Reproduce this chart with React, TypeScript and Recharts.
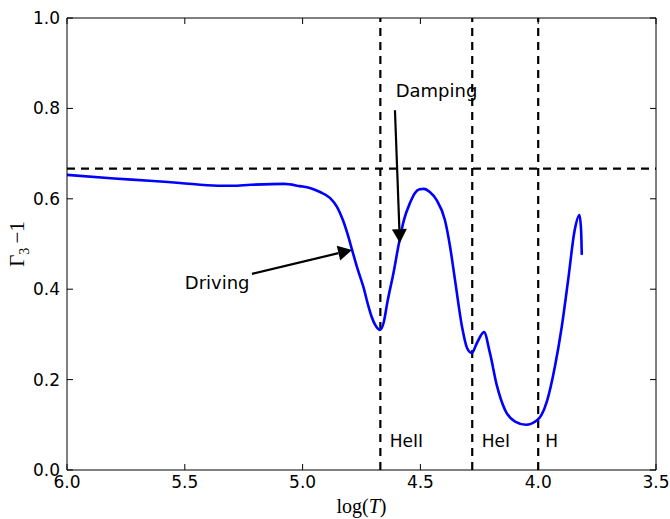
import React from 'react';
import { LineChart, Line, XAxis, YAxis, ReferenceLine, ReferenceDot } from 'recharts';

// log(T) values along the profile (surface towards the right)
const logT = [
  6.0, 5.8, 5.65, 5.52, 5.36, 5.3, 5.22, 5.08, 5.011, 4.969, 4.926, 4.884, 4.854, 4.829,
  4.808, 4.79, 4.765, 4.742, 4.722, 4.707, 4.693, 4.672, 4.655, 4.641, 4.612, 4.594,
  4.57, 4.544, 4.523, 4.503, 4.485, 4.46, 4.431, 4.396, 4.374, 4.353, 4.323, 4.302,
  4.282, 4.26, 4.23, 4.205, 4.175, 4.141, 4.098, 4.052, 4.005, 3.986, 3.963, 3.929,
  3.9, 3.873, 3.845, 3.825, 3.818, 3.815,
];
// Gamma_3 - 1 values
const gamma3m1 = [
  0.653, 0.645, 0.64, 0.635, 0.629, 0.629, 0.631, 0.633, 0.628, 0.624, 0.615, 0.602, 0.582, 0.553,
  0.52, 0.487, 0.442, 0.405, 0.365, 0.339, 0.322, 0.31, 0.328, 0.369, 0.442, 0.494,
  0.553, 0.591, 0.613, 0.621, 0.622, 0.615, 0.597, 0.553, 0.494, 0.42, 0.316, 0.27,
  0.259, 0.281, 0.305, 0.259, 0.186, 0.133, 0.107, 0.1, 0.11, 0.122, 0.152, 0.229,
  0.317, 0.42, 0.531, 0.564, 0.531, 0.476,
];

const xTicks = [6.0, 5.5, 5.0, 4.5, 4.0, 3.5];
const yTicks = [0.0, 0.2, 0.4, 0.6, 0.8, 1.0];
const xMin = 3.5;
const xMax = 6.0;
const yMin = 0.0;
const yMax = 1.0;

const ionLines = [4.67, 4.28, 4.0];
const ionLabels = ['HeII', 'HeI', 'H'];
const ionLabelX = [4.63, 4.24, 3.97];
const ionLabelY = 0.065;

const adiabaticValue = 2 / 3;

const annotationTexts = ['Damping', 'Driving'];
const annotationTextX = [4.605, 5.5];
const annotationTextY = [0.84, 0.415];
const arrowFromX = [4.608, 5.215];
const arrowFromY = [0.796, 0.434];
const arrowToX = [4.587, 4.79];
const arrowToY = [0.502, 0.487];

const data = logT.map((x, i) => ({ x, y: gamma3m1[i] }));

const FONT = '"DejaVu Sans", sans-serif';
const SERIF = '"Liberation Serif", "DejaVu Serif", serif';
const FS = 17;
const FS_ANN = 18;

const ArrowShape = (props: any) => {
  const { x1, y1, x2, y2 } = props;
  if ([x1, y1, x2, y2].some((v) => typeof v !== 'number' || isNaN(v))) return null;
  const dx = x2 - x1;
  const dy = y2 - y1;
  const len = Math.sqrt(dx * dx + dy * dy);
  const ux = dx / len;
  const uy = dy / len;
  const headL = 14;
  const headW = 7.5;
  const bx = x2 - ux * headL;
  const by = y2 - uy * headL;
  const px = -uy;
  const py = ux;
  return (
    <g>
      <line x1={x1} y1={y1} x2={bx} y2={by} stroke="#000" strokeWidth={2.2} />
      <polygon
        points={`${x2},${y2} ${bx + px * headW},${by + py * headW} ${bx - px * headW},${by - py * headW}`}
        fill="#000"
      />
    </g>
  );
};

const makeTextShape = (txt: string, size: number) => (props: any) => {
  const { cx, cy } = props;
  if (typeof cx !== 'number' || typeof cy !== 'number') return null;
  return (
    <text x={cx} y={cy} fontFamily={FONT} fontSize={size} fill="#000" textAnchor="start" dominantBaseline="central">
      {txt}
    </text>
  );
};

const TopTick = (props: any) => {
  const { cx, cy } = props;
  if (typeof cx !== 'number' || typeof cy !== 'number') return null;
  return <line x1={cx} y1={cy} x2={cx} y2={cy + 6} stroke="#000" strokeWidth={1} />;
};
const RightTick = (props: any) => {
  const { cx, cy } = props;
  if (typeof cx !== 'number' || typeof cy !== 'number') return null;
  return <line x1={cx} y1={cy} x2={cx - 6} y2={cy} stroke="#000" strokeWidth={1} />;
};

const fmt = (v: number) => v.toFixed(1);

export default function App() {
  return (
    <div style={{ position: 'absolute', left: 0, top: 0, width: 670, height: 519, background: '#fff' }}>
      <LineChart
        width={670}
        height={519}
        data={data}
        margin={{ top: 18, right: 14, bottom: 0, left: 0 }}
      >
        <XAxis
          dataKey="x"
          type="number"
          domain={[xMin, xMax]}
          ticks={xTicks}
          reversed
          allowDataOverflow
          tickFormatter={fmt}
          height={49}
          axisLine={{ stroke: '#000', strokeWidth: 1 }}
          tickLine={{ stroke: '#000', strokeWidth: 1 }}
          tickSize={-6}
          tickMargin={12}
          tick={{ fill: '#000', fontSize: FS, fontFamily: FONT }}
          interval={0}
          label={{
            content: (p: any) => {
              const vb = p.viewBox || {};
              const cx = (vb.x ?? 67) + (vb.width ?? 589) / 2;
              return (
                <text x={cx} y={513} textAnchor="middle" fontFamily={SERIF} fontSize={20} fill="#000">
                  log(<tspan fontStyle="italic">T</tspan>)
                </text>
              );
            },
          }}
        />
        <YAxis
          type="number"
          domain={[yMin, yMax]}
          ticks={yTicks}
          allowDataOverflow
          tickFormatter={fmt}
          width={67}
          axisLine={{ stroke: '#000', strokeWidth: 1 }}
          tickLine={{ stroke: '#000', strokeWidth: 1 }}
          tickSize={-6}
          tickMargin={13}
          tick={{ fill: '#000', fontSize: FS, fontFamily: FONT }}
          interval={0}
          label={{
            content: (p: any) => {
              const vb = p.viewBox || {};
              const cy = (vb.y ?? 18) + (vb.height ?? 452) / 2;
              return (
                <text
                  x={0}
                  y={0}
                  transform={`translate(24, ${cy}) rotate(-90)`}
                  textAnchor="middle"
                  fontFamily={SERIF}
                  fontSize={21}
                  fill="#000"
                >
                  Γ<tspan fontSize={14} dy={5}>3</tspan>
                  <tspan dy={-5}>{'\u2009\u22121'}</tspan>
                </text>
              );
            },
          }}
        />

        {/* frame: top and right */}
        <ReferenceLine y={yMax} stroke="#000" strokeWidth={1} />
        <ReferenceLine x={xMin} stroke="#000" strokeWidth={1} />
        {xTicks.map((t) => (
          <ReferenceDot key={'tt' + t} x={t} y={yMax} r={0} shape={TopTick} />
        ))}
        {yTicks.map((t) => (
          <ReferenceDot key={'rt' + t} x={xMin} y={t} r={0} shape={RightTick} />
        ))}

        <ReferenceLine y={adiabaticValue} stroke="#000" strokeWidth={2.2} strokeDasharray="8 6" />
        {ionLines.map((v) => (
          <ReferenceLine key={'v' + v} x={v} stroke="#000" strokeWidth={2.2} strokeDasharray="8 6" />
        ))}

        <Line
          dataKey="y"
          type="monotone"
          stroke="#0000ff"
          strokeWidth={2.6}
          dot={false}
          activeDot={false}
          isAnimationActive={false}
        />

        {ionLabels.map((t, i) => (
          <ReferenceDot key={t} x={ionLabelX[i]} y={ionLabelY} r={0} shape={makeTextShape(t, FS)} />
        ))}

        {annotationTexts.map((t, i) => (
          <ReferenceDot
            key={t}
            x={annotationTextX[i]}
            y={annotationTextY[i]}
            r={0}
            shape={makeTextShape(t, FS_ANN)}
          />
        ))}
        {annotationTexts.map((t, i) => (
          <ReferenceLine
            key={'a' + t}
            segment={[
              { x: arrowFromX[i], y: arrowFromY[i] },
              { x: arrowToX[i], y: arrowToY[i] },
            ]}
            shape={ArrowShape}
          />
        ))}
      </LineChart>
    </div>
  );
}
